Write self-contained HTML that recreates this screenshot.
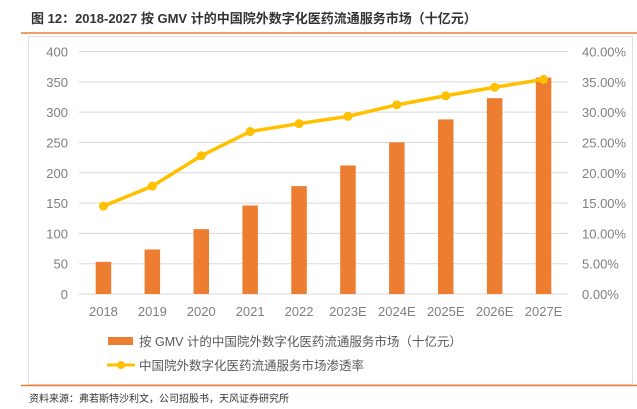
<!DOCTYPE html>
<html><head><meta charset="utf-8"><style>
body{margin:0;width:637px;height:404px;background:#fff;overflow:hidden;font-family:"Liberation Sans","Noto Sans CJK SC",sans-serif}
</style></head><body>
<svg width="637" height="404" xmlns="http://www.w3.org/2000/svg" font-family="Liberation Sans, Noto Sans CJK SC, sans-serif">
<text x="31" y="23" font-size="13" font-weight="bold" fill="#333">图 12：2018-2027 按 GMV 计的中国院外数字化医药流通服务市场（十亿元）</text>
<line x1="21" y1="33" x2="637" y2="33" stroke="#ED7D31" stroke-width="1.5"/>
<rect x="28.5" y="36.5" width="604" height="348" fill="none" stroke="#ddd"/>
<g id="grid"></g><g id="bars"></g><g id="line"></g><g id="axes"></g>
<rect x="108" y="337" width="25" height="8" fill="#ED7D31"/>
<text x="139" y="346" font-size="12.5" fill="#595959">按 GMV 计的中国院外数字化医药流通服务市场（十亿元）</text>
<line x1="107" y1="365" x2="135" y2="365" stroke="#FFC000" stroke-width="3"/>
<circle cx="121" cy="365" r="4" fill="#FFC000"/>
<text x="139" y="370" font-size="12.5" fill="#595959">中国院外数字化医药流通服务市场渗透率</text>
<line x1="21" y1="385.5" x2="637" y2="385.5" stroke="#ED7D31" stroke-width="1.5"/>
<text x="29" y="402" font-size="10" fill="#333">资料来源：弗若斯特沙利文，公司招股书，天风证券研究所</text>
</svg>
<script>
const categories=["2018","2019","2020","2021","2022","2023E","2024E","2025E","2026E","2027E"];
const marketValues=[53,73.5,107,146,178,212,250,288,323,357];
const penetration=[14.5,17.8,22.8,26.8,28.1,29.3,31.2,32.7,34.1,35.4];
const leftTicks=[0,50,100,150,200,250,300,350,400];
const rightTicks=["0.00%","5.00%","10.00%","15.00%","20.00%","25.00%","30.00%","35.00%","40.00%"];
const NS="http://www.w3.org/2000/svg";
const x0=79,x1=568,yb=294,yt=51.5;
const yL=v=>yb-(v/400)*(yb-yt);
const yR=p=>yb-(p/40)*(yb-yt);
const step=(x1-x0)/categories.length;
const xc=i=>x0+step*(i+0.5);
function mk(t,a,p){const e=document.createElementNS(NS,t);for(const k in a)e.setAttribute(k,a[k]);document.getElementById(p).appendChild(e);return e;}
leftTicks.forEach((v,i)=>{
 const g=mk("line",{x1:x0,x2:x1,y1:yL(v),y2:yL(v),stroke:"#d9d9d9","stroke-width":1},"grid");
 
 
 const t=mk("text",{x:68,y:yL(v)+5,"text-anchor":"end","font-size":13,fill:"#7f7f7f"},"axes");t.textContent=v;
 
 
 const r=mk("text",{x:582,y:yL(v)+5,"font-size":13,fill:"#7f7f7f"},"axes");r.textContent=rightTicks[i];
 
 
});
categories.forEach((c,i)=>{
 const b=mk("rect",{x:xc(i)-7.75,y:yL(marketValues[i]),width:15.5,height:yb-yL(marketValues[i]),fill:"#ED7D31"},"bars");
 
 
 const t=mk("text",{x:xc(i),y:316,"text-anchor":"middle","font-size":13,fill:"#7f7f7f"},"axes");t.textContent=c;
 
 
});
const pts=penetration.map((p,i)=>xc(i)+","+yR(p)).join(" ");
const pl=mk("polyline",{points:pts,fill:"none",stroke:"#FFC000","stroke-width":3.5,"stroke-linejoin":"round"},"line");


penetration.forEach((p,i)=>{
 const d=mk("circle",{cx:xc(i),cy:yR(p),r:4.5,fill:"#FFC000"},"line");
 
 
});
</script>
</body></html>
